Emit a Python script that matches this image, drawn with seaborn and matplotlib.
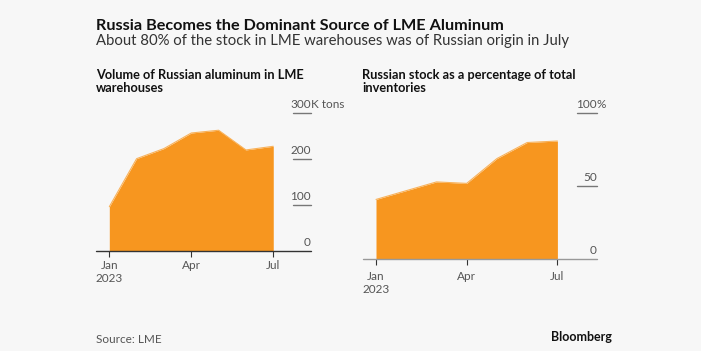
import matplotlib
matplotlib.use("Agg")
import matplotlib.pyplot as plt
import seaborn as sns
import pandas as pd
import numpy as np

# ---- data ----
months = ["Jan", "Feb", "Mar", "Apr", "May", "Jun", "Jul"]
russian_volume_k_tons = [96, 201, 223, 257, 263, 220, 228]
russian_share_pct = [41, 47, 53, 52, 69, 80, 81]
x_tick_months = ["Jan", "Apr", "Jul"]
x_tick_labels = ["Jan\n2023", "Apr", "Jul"]
left_yticks = [0, 100, 200, 300]
right_yticks = [0, 50, 100]

title = "Russia Becomes the Dominant Source of LME Aluminum"
subtitle = "About 80% of the stock in LME warehouses was of Russian origin in July"
left_title = "Volume of Russian aluminum in LME\nwarehouses"
right_title = "Russian stock as a percentage of total\ninventories"
source = "Source: LME"

BG = "#f7f7f7"
ORANGE = "#f7961f"
TXT = "#555555"

sns.set_theme(style="white")
plt.rcParams["font.family"] = ["Lato", "DejaVu Sans"]

W, H = 701, 351
fig = plt.figure(figsize=(W / 100, H / 100), dpi=100, facecolor=BG)


def fx(x):
    return x / W


def fy(y):
    return 1 - y / H


def axes_px(x0, x1, y_top, y_bot):
    return fig.add_axes([fx(x0), fy(y_bot), (x1 - x0) / W, (y_bot - y_top) / H])


df = pd.DataFrame({"month": months, "idx": np.arange(len(months)),
                   "volume": russian_volume_k_tons, "share": russian_share_pct})
month_pos = {m: i for i, m in enumerate(months)}


def draw_panel(ax, col, ymax, yticks, xlim, base_color, grid_x0, top_suffix, pad):
    ax.set_facecolor(BG)
    ax.fill_between(df["idx"], 0, df[col], color=ORANGE, linewidth=0, zorder=2)
    sns.lineplot(data=df, x="idx", y=col, ax=ax, color="#f9b25a", linewidth=0.8, zorder=3)
    ax.set_xlim(*xlim)
    ax.set_ylim(0, ymax)
    for s in ax.spines.values():
        s.set_visible(False)
    ax.set_xlabel("")
    ax.set_ylabel("")
    ax.set_yticks([])
    ax.set_xticks([month_pos[m] for m in x_tick_months])
    ax.set_xticklabels(x_tick_labels, color=TXT, fontsize=8.5, ha="center",
                       linespacing=1.2)
    ax.tick_params(axis="x", length=4, width=0.8, color="#333333", pad=pad, bottom=True)
    ax.axhline(0, color=base_color, linewidth=1.0, zorder=4, clip_on=False)
    trans = ax.get_yaxis_transform()
    for v in yticks:
        if v > 0:
            ax.plot([grid_x0, 1.0], [v, v], transform=trans, color="#777777",
                    linewidth=1.0, clip_on=False, zorder=1)
        t = ax.text(1.0, v, str(v), transform=trans, ha="right", va="bottom",
                    fontsize=8.5, color=TXT)
        if v == yticks[-1]:
            ax.annotate(top_suffix, xy=(1, 0), xycoords=t, ha="left", va="bottom",
                        fontsize=8.5, color=TXT)
    for t in ax.texts:
        t.set_transform(t.get_transform() + matplotlib.transforms.ScaledTranslation(0, 3 / 100, fig.dpi_scale_trans))


# left panel
axL = axes_px(96, 310.7, 113.3, 250.7)
draw_panel(axL, "volume", 300, left_yticks, (-0.487, 7.37), "#333333",
           1 - (310.7 - 292.7) / (310.7 - 96), "K tons", 2.5)

# right panel
axR = axes_px(362.7, 596.7, 113.3, 259.3)
draw_panel(axR, "share", 100, right_yticks, (-0.44, 7.3), "#999999",
           1 - (596.7 - 577.3) / (596.7 - 362.7), "%", 4.5)

# texts
fig.text(fx(96), fy(30), title, fontsize=11.7, fontweight="bold", color="#111111", va="baseline")
fig.text(fx(96), fy(45), subtitle, fontsize=10.7, color="#333333", va="baseline")
fig.text(fx(96), fy(92), left_title, fontsize=9.2, fontweight="bold", color="#111111",
         va="baseline", linespacing=1.1)
fig.text(fx(362), fy(92), right_title, fontsize=9.2, fontweight="bold", color="#111111",
         va="baseline", linespacing=1.1)
fig.text(fx(96), fy(343), source, fontsize=8.5, color=TXT, va="baseline")
fig.text(fx(612), fy(341), "Bloomberg", fontsize=9, fontweight="bold", color="#111111",
         va="baseline", ha="right")

fig.savefig("out.png", dpi=100, facecolor=BG)
